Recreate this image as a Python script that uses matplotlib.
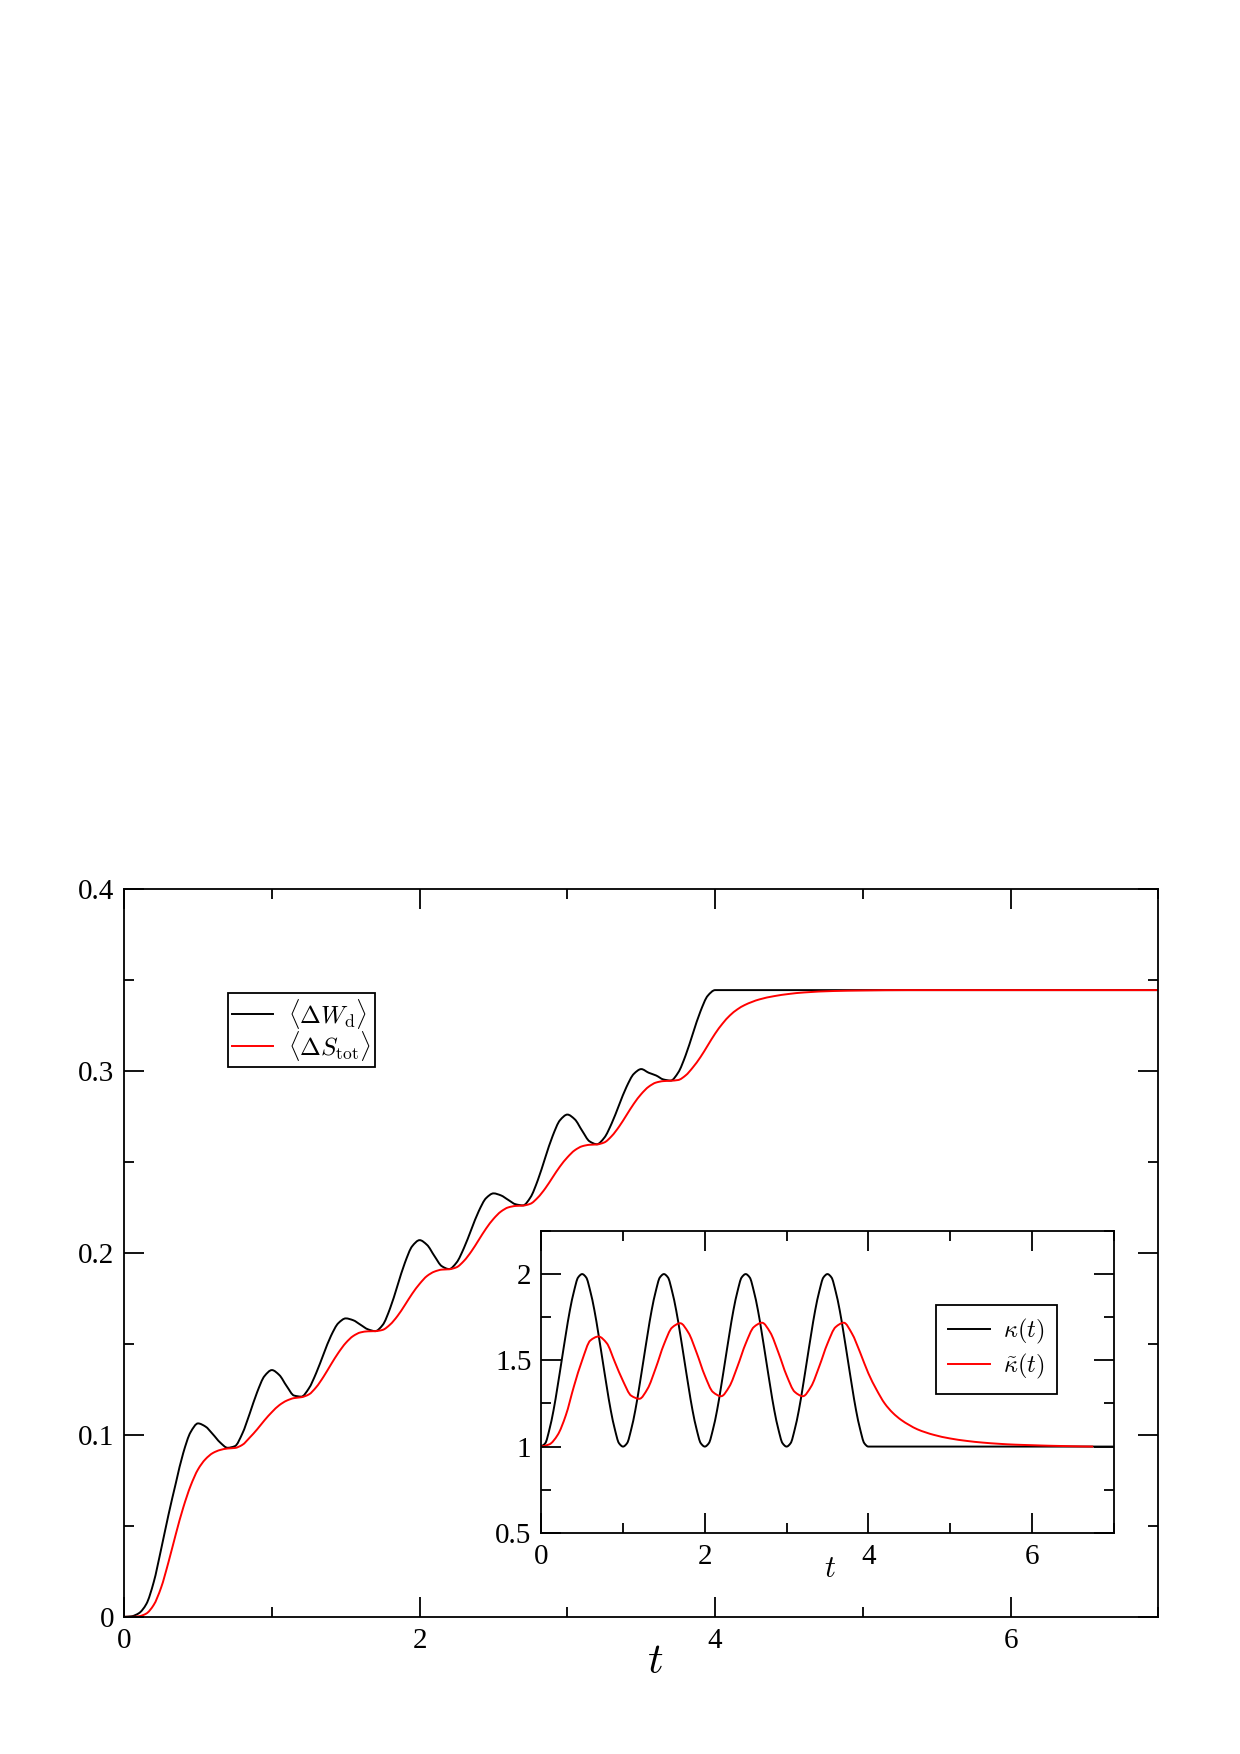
"""Dissipated work and total entropy production under a periodic trap protocol."""

import matplotlib

matplotlib.use("Agg")

import matplotlib.pyplot as plt
import numpy as np
from matplotlib.lines import Line2D
from matplotlib.patches import PathPatch
from matplotlib.path import Path
from matplotlib.ticker import MultipleLocator

# main panel: <dW_d> and <dS_tot>, sampled every 0.05 up to t = 4
t_grid = np.round(np.arange(0.0, 4.001, 0.05), 2)

work_d = [
    0.0000, 0.0003, 0.0020, 0.0070, 0.0190, 0.0370, 0.0560, 0.0735, 0.0900, 0.1015,
    0.1063, 0.1046, 0.1004, 0.0958, 0.0929, 0.0938, 0.1007, 0.1117, 0.1234, 0.1323,
    0.1356, 0.1329, 0.1268, 0.1216, 0.1210, 0.1255, 0.1340, 0.1444, 0.1544, 0.1614,
    0.1640, 0.1630, 0.1605, 0.1580, 0.1570, 0.1604, 0.1695, 0.1820, 0.1945, 0.2037,
    0.2070, 0.2044, 0.1983, 0.1927, 0.1911, 0.1947, 0.2027, 0.2129, 0.2229, 0.2301,
    0.2327, 0.2316, 0.2291, 0.2267, 0.2261, 0.2305, 0.2400, 0.2523, 0.2642, 0.2729,
    0.2760, 0.2734, 0.2671, 0.2613, 0.2597, 0.2633, 0.2712, 0.2813, 0.2912, 0.2984,
    0.3010, 0.2990, 0.2975, 0.2953, 0.2947, 0.2991, 0.3085, 0.3207, 0.3326, 0.3413,
    0.3444,
]
work_tail_t = [7.0]
work_tail = [0.3444]

entropy_tot = [
    0.0000, 0.0000, 0.0003, 0.0018, 0.0065, 0.0160, 0.0300, 0.0455, 0.0600, 0.0720,
    0.0810, 0.0866, 0.0900, 0.0917, 0.0925, 0.0928, 0.0945, 0.0985, 0.1030, 0.1080,
    0.1125, 0.1163, 0.1188, 0.1202, 0.1207, 0.1222, 0.1262, 0.1320, 0.1387, 0.1451,
    0.1505, 0.1543, 0.1563, 0.1569, 0.1570, 0.1577, 0.1606, 0.1653, 0.1713, 0.1776,
    0.1830, 0.1873, 0.1897, 0.1908, 0.1910, 0.1921, 0.1956, 0.2008, 0.2071, 0.2134,
    0.2187, 0.2227, 0.2250, 0.2258, 0.2260, 0.2270, 0.2304, 0.2354, 0.2415, 0.2475,
    0.2525, 0.2564, 0.2586, 0.2594, 0.2596, 0.2607, 0.2642, 0.2694, 0.2757, 0.2820,
    0.2873, 0.2913, 0.2936, 0.2944, 0.2946, 0.2950, 0.2975, 0.3020, 0.3075, 0.3140,
    0.3205,
]
entropy_tail_t = [4.05, 4.10, 4.15, 4.20, 4.30, 4.40, 4.50, 4.60, 4.80, 5.00, 5.30, 7.00]
entropy_tail = [0.3260, 0.3305, 0.3338, 0.3362, 0.3393, 0.3411, 0.3423, 0.3431, 0.3439,
                0.3442, 0.3444, 0.3444]

# inset: kappa(t) every 0.05, kappa~(t) every 0.1
kappa = [
    1.00, 1.02, 1.10, 1.21, 1.35, 1.50, 1.65, 1.79, 1.90, 1.98,
    2.00, 1.98, 1.90, 1.79, 1.65, 1.50, 1.35, 1.21, 1.10, 1.02,
    1.00, 1.02, 1.10, 1.21, 1.35, 1.50, 1.65, 1.79, 1.90, 1.98,
    2.00, 1.98, 1.90, 1.79, 1.65, 1.50, 1.35, 1.21, 1.10, 1.02,
    1.00, 1.02, 1.10, 1.21, 1.35, 1.50, 1.65, 1.79, 1.90, 1.98,
    2.00, 1.98, 1.90, 1.79, 1.65, 1.50, 1.35, 1.21, 1.10, 1.02,
    1.00, 1.02, 1.10, 1.21, 1.35, 1.50, 1.65, 1.79, 1.90, 1.98,
    2.00, 1.98, 1.90, 1.79, 1.65, 1.50, 1.35, 1.21, 1.10, 1.02,
    1.00,
]
kappa_tail_t = [7.0]
kappa_tail = [1.00]

t_kt = [
    0.0, 0.1, 0.2, 0.3, 0.4, 0.5, 0.6, 0.7, 0.8, 0.9,
    1.0, 1.1, 1.2, 1.3, 1.4, 1.5, 1.6, 1.7, 1.8, 1.9,
    2.0, 2.1, 2.2, 2.3, 2.4, 2.5, 2.6, 2.7, 2.8, 2.9,
    3.0, 3.1, 3.2, 3.3, 3.4, 3.5, 3.6, 3.7, 3.8, 3.9,
    4.0, 4.1, 4.2, 4.3, 4.4, 4.5, 4.6, 4.8, 5.0, 5.2,
    5.4, 5.6, 5.8, 6.0, 6.2, 6.4, 6.6, 6.75,
]
kappa_tilde = [
    1.000, 1.013, 1.067, 1.181, 1.350, 1.500, 1.615, 1.638, 1.600, 1.490,
    1.380, 1.295, 1.277, 1.335, 1.455, 1.592, 1.690, 1.715, 1.660, 1.544,
    1.412, 1.316, 1.292, 1.348, 1.465, 1.597, 1.693, 1.718, 1.662, 1.545,
    1.413, 1.317, 1.292, 1.348, 1.465, 1.597, 1.693, 1.718, 1.655, 1.545,
    1.425, 1.330, 1.250, 1.195, 1.155, 1.125, 1.100, 1.068, 1.047, 1.033,
    1.023, 1.016, 1.011, 1.008, 1.005, 1.003, 1.001, 1.000,
]

main_xticks = [0, 2, 4, 6]
main_xlabels = ["0", "2", "4", "6"]
main_yticks = [0.0, 0.1, 0.2, 0.3, 0.4]
main_ylabels = ["0", "0.1", "0.2", "0.3", "0.4"]
inset_xticks = [0, 2, 4, 6]
inset_xlabels = ["0", "2", "4", "6"]
inset_yticks = [0.5, 1.0, 1.5, 2.0]
inset_ylabels = ["0.5", "1", "1.5", "2"]

plt.rcParams["font.family"] = ["Liberation Serif", "DejaVu Serif"]
plt.rcParams["mathtext.fontset"] = "cm"


def smooth_curve(ax, x, y, color, lw=1.4):
    """Draw the samples as a monotone cubic (PCHIP-style) Bezier path."""
    x = np.asarray(x, dtype=float)
    y = np.asarray(y, dtype=float)
    h = np.diff(x)
    d = np.diff(y) / h
    m = np.zeros_like(y)
    m[0], m[-1] = d[0], d[-1]
    for i in range(1, len(x) - 1):
        if d[i - 1] * d[i] > 0:
            w1 = 2 * h[i] + h[i - 1]
            w2 = h[i] + 2 * h[i - 1]
            m[i] = (w1 + w2) / (w1 / d[i - 1] + w2 / d[i])
    verts = [(x[0], y[0])]
    codes = [Path.MOVETO]
    for i in range(len(h)):
        verts += [
            (x[i] + h[i] / 3, y[i] + m[i] * h[i] / 3),
            (x[i + 1] - h[i] / 3, y[i + 1] - m[i + 1] * h[i] / 3),
            (x[i + 1], y[i + 1]),
        ]
        codes += [Path.CURVE4] * 3
    patch = PathPatch(Path(verts, codes), fill=False, edgecolor=color, lw=lw,
                      transform=ax.transData, capstyle="butt", joinstyle="round")
    ax.add_patch(patch)
    return Line2D([], [], color=color, lw=lw)


def style_axes(ax, xminor, yminor):
    ax.xaxis.set_minor_locator(MultipleLocator(xminor))
    ax.yaxis.set_minor_locator(MultipleLocator(yminor))
    ax.tick_params(which="both", direction="in", top=True, right=True,
                   width=1.3, labelsize=21)
    ax.tick_params(which="major", length=14.5)
    ax.tick_params(which="minor", length=7.2)
    ax.tick_params(axis="x", which="major", pad=8)
    ax.tick_params(axis="y", which="major", pad=7)
    for spine in ax.spines.values():
        spine.set_linewidth(1.3)


def main():
    fig = plt.figure(figsize=(12.4, 17.54), dpi=100)

    ax = fig.add_axes([0.1001, 0.0782, 0.8341, 0.4150])
    h_work = smooth_curve(ax, list(t_grid) + work_tail_t, work_d + work_tail, "black")
    h_ent = smooth_curve(ax, list(t_grid) + entropy_tail_t, entropy_tot + entropy_tail, "red")
    ax.set_xlim(0, 7)
    ax.set_ylim(0, 0.4)
    ax.set_xticks(main_xticks, main_xlabels)
    ax.set_yticks(main_yticks, main_ylabels)
    style_axes(ax, 1, 0.05)
    ax.set_xlabel(r"$t$", fontsize=31)
    ax.xaxis.set_label_coords(0.5135, -0.063)
    ax.xaxis.label.set_verticalalignment("center")
    leg = ax.legend([h_work, h_ent],
                    [r"$\langle\Delta W_{\rm d}\rangle$", r"$\langle\Delta S_{\rm tot}\rangle$"],
                    loc="upper left", bbox_to_anchor=(0.1005, 0.857),
                    borderaxespad=0, fontsize=18, frameon=True, fancybox=False,
                    edgecolor="black", framealpha=1, handlelength=1.65,
                    handletextpad=0.6, borderpad=0.15, labelspacing=-0.08)
    leg.get_frame().set_linewidth(1.3)

    inset = fig.add_axes([0.4365, 0.1261, 0.4616, 0.1721])
    inset.set_facecolor("white")
    h_k = smooth_curve(inset, list(t_grid) + kappa_tail_t, kappa + kappa_tail, "black")
    h_kt = smooth_curve(inset, t_kt, kappa_tilde, "red")
    inset.set_xlim(0, 7)
    inset.set_ylim(0.5, 2.25)
    inset.set_xticks(inset_xticks, inset_xlabels)
    inset.set_yticks(inset_yticks, inset_ylabels)
    style_axes(inset, 1, 0.25)
    inset.set_xlabel(r"$t$", fontsize=22)
    inset.xaxis.set_label_coords(0.505, -0.122)
    inset.xaxis.label.set_verticalalignment("center")
    leg2 = inset.legend([h_k, h_kt], [r"$\kappa(t)$", r"$\tilde{\kappa}(t)$"],
                        loc="upper left", bbox_to_anchor=(0.69, 0.755),
                        borderaxespad=0, fontsize=17.5, frameon=True, fancybox=False,
                        edgecolor="black", framealpha=1, handlelength=1.7,
                        handletextpad=0.55, borderpad=0.5, labelspacing=0.25)
    leg2.get_frame().set_linewidth(1.3)

    fig.savefig("out.png", dpi=100)
    plt.close(fig)


if __name__ == "__main__":
    main()
